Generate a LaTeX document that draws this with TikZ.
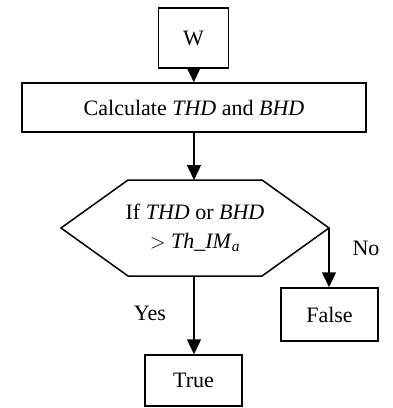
\documentclass[tikz,border=0pt]{standalone}
\usepackage{fontspec}
\setmainfont{Liberation Serif}
\usetikzlibrary{arrows.meta}
\begin{document}
\begin{tikzpicture}[x=1pt,y=-1pt,
  every node/.style={font=\fontsize{22}{29}\selectfont},
  box/.style={draw, line width=1.5pt, inner sep=0pt, align=center},
  edge/.style={draw, line width=1.5pt},
  arr/.style={line width=1.5pt, -{Triangle[width=14pt,length=15pt]}},
  lbl/.style={inner sep=0pt}]
\useasboundingbox (0,0) rectangle (392,408);
% process boxes
\node[box, minimum width=70pt, minimum height=60pt] (W) at (193.5,38) {W};
\node[box, minimum width=344pt, minimum height=49pt] (calc) at (194,107.5)
  {Calculate \textit{THD} and \textit{BHD}};
% decision hexagon
\coordinate (hL) at (61,228);
\coordinate (hTL) at (128,180);
\coordinate (hT) at (194,180);
\coordinate (hTR) at (262,180);
\coordinate (hR) at (329,228);
\coordinate (hBR) at (262,276);
\coordinate (hB) at (194,276);
\coordinate (hBL) at (128,276);
\draw[edge, line join=miter] (hL) -- (hTL) -- (hTR) -- (hR) -- (hBR) -- (hBL) -- cycle;
\node[align=center, inner sep=0pt] (dec) at (195,228)
  {If \textit{THD} or \textit{BHD}\\ $>$ \textit{Th\_IM}\textsubscript{\textit{a}}};
% outcomes
\node[box, minimum width=97pt, minimum height=53pt] (F) at (329.5,314.5) {False};
\node[box, minimum width=97pt, minimum height=51pt] (T) at (193.5,380.5) {True};
% connectors
\draw[arr] (W) -- (calc);
\draw[arr] (calc) -- (hT);
\draw[arr] (hR) -- (hR |- F.north);
\draw[arr] (hB) -- (hB |- T.north);
% branch labels
\node[lbl] (no) at (366,248) {No};
\node[lbl] (yes) at (150,313) {Yes};
\end{tikzpicture}
\end{document}
